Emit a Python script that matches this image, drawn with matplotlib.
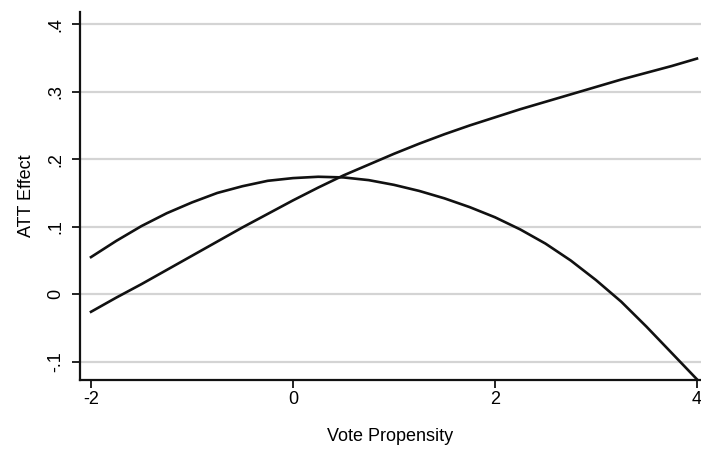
import matplotlib
matplotlib.use("Agg")
import matplotlib.pyplot as plt

# values, every 0.25 on the x axis
vote_propensity = [-2.00, -1.75, -1.50, -1.25, -1.00, -0.75, -0.50, -0.25,
                   0.00, 0.25, 0.50, 0.75, 1.00, 1.25, 1.50, 1.75,
                   2.00, 2.25, 2.50, 2.75, 3.00, 3.25, 3.50, 3.75, 4.00]
att_quadratic = [0.055, 0.079, 0.101, 0.120, 0.136, 0.150, 0.160, 0.168,
                 0.172, 0.174, 0.173, 0.169, 0.162, 0.153, 0.142, 0.129,
                 0.114, 0.096, 0.075, 0.050, 0.021, -0.011, -0.048, -0.087, -0.126]
att_concave = [-0.026, -0.005, 0.015, 0.036, 0.057, 0.078, 0.099, 0.119,
               0.139, 0.158, 0.176, 0.192, 0.208, 0.223, 0.237, 0.250,
               0.262, 0.274, 0.285, 0.296, 0.307, 0.318, 0.328, 0.338, 0.349]

x_ticks = [-2, 0, 2, 4]
y_ticks = [-0.1, 0.0, 0.1, 0.2, 0.3, 0.4]
y_tick_labels = ["-.1", "0", ".1", ".2", ".3", ".4"]

plt.rcParams["font.family"] = ["Liberation Sans", "DejaVu Sans"]

fig = plt.figure(figsize=(7.01, 4.61), dpi=100)
ax = fig.add_axes([80 / 701, 81 / 461, 621 / 701, 368 / 461])

for y in y_ticks:
    ax.axhline(y, color="#d4d4d4", linewidth=1.6, zorder=1)

ax.plot(vote_propensity, att_quadratic, color="#111111", linewidth=1.9,
        solid_joinstyle="round", zorder=3)
ax.plot(vote_propensity, att_concave, color="#111111", linewidth=1.9,
        solid_joinstyle="round", zorder=3)

ax.set_xlim(-2.109, 4.04)
ax.set_ylim(-0.127, 0.418)

ax.set_xticks(x_ticks)
ax.set_xticklabels([str(v) for v in x_ticks])
ax.set_yticks(y_ticks)
ax.set_yticklabels(y_tick_labels, rotation=90, va="center")

ax.tick_params(axis="both", direction="out", length=6, width=1.3,
               color="#111111", labelsize=13, pad=2)
ax.tick_params(axis="y", pad=5)

for side in ("top", "right"):
    ax.spines[side].set_visible(False)
for side in ("left", "bottom"):
    ax.spines[side].set_linewidth(1.6)
    ax.spines[side].set_color("#111111")

ax.set_xlabel("Vote Propensity", fontsize=13, labelpad=14)
ax.set_ylabel("ATT Effect", fontsize=13, labelpad=9)

fig.savefig("out.png", dpi=100)
